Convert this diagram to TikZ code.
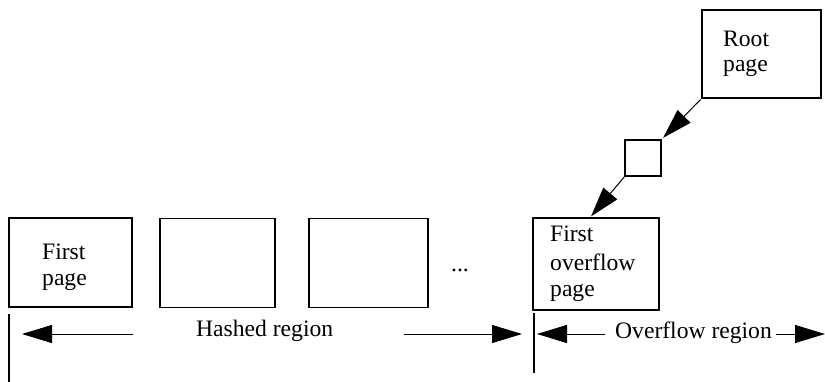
\documentclass[tikz,border=0pt]{standalone}
\usepackage{fontspec}
\setmainfont{Liberation Serif}
\usetikzlibrary{arrows.meta,calc}

\tikzset{
  pagebox/.style={draw, line width=1.3pt, inner sep=0pt, outer sep=0pt},
  lbl/.style={anchor=base west, inner sep=0pt, font=\fontsize{23.6}{26}\selectfont},
  arr/.style={line width=1pt, -{Triangle[length=30pt,width=18pt]}},
  tick/.style={line width=1.3pt}
}

\begin{document}
\begin{tikzpicture}[x=1pt, y=-1pt]
  \useasboundingbox (0,0) rectangle (825,382);

  % hashed pages
  \node[pagebox, minimum width=123pt, minimum height=89pt] (p1) at (70.5,262.5) {};
  \node[pagebox, minimum width=115pt, minimum height=89pt] (p2) at (217.5,263) {};
  \node[pagebox, minimum width=119pt, minimum height=89pt] (p3) at (368.5,263) {};
  \node[lbl] (p1a) at (42,260) {First};
  \node[lbl] (p1b) at (42,286) {page};
  \node[lbl, anchor=base] (dots) at (460,272) {...};

  % overflow pages
  \node[pagebox, minimum width=126pt, minimum height=92pt] (ovf) at (596,264) {};
  \node[lbl] (ova) at (550,242) {First};
  \node[lbl] (ovb) at (550,271) {overflow};
  \node[lbl] (ovc) at (550,297) {page};

  \node[pagebox, minimum width=119pt, minimum height=88pt] (root) at (761.5,54) {};
  \node[lbl] (rta) at (723,47) {Root};
  \node[lbl] (rtb) at (723,72) {page};

  \node[pagebox, minimum width=36pt, minimum height=36pt] (sq) at (643,158) {};

  % links from the root page down to the first overflow page
  \coordinate (ovtop) at ($(ovf.north west)!0.45!(ovf.north east)$);
  \draw[arr, shorten <=2pt, shorten >=3pt] (root.south west) -- (sq.north east);
  \draw[arr, shorten >=2pt] (sq.south west) -- (ovtop);

  % region markers
  \coordinate (v1t) at (9,314);   \coordinate (v1b) at (9,382);
  \coordinate (v2t) at (534,313); \coordinate (v2b) at (534,373);
  \draw[tick] (v1t) -- (v1b);
  \draw[tick] (v2t) -- (v2b);

  \node[lbl] (hashed) at (196,336) {Hashed region};
  \node[lbl] (overflow) at (615,338) {Overflow region};

  \coordinate (h1s) at (133,334); \coordinate (h1e) at (22,334);
  \coordinate (h2s) at (404,334); \coordinate (h2e) at (522,334);
  \coordinate (o1s) at (605,334); \coordinate (o1e) at (537,334);
  \coordinate (o2s) at (776,334); \coordinate (o2e) at (825,334);
  \draw[arr] (h1s) -- (h1e);
  \draw[arr] (h2s) -- (h2e);
  \draw[arr] (o1s) -- (o1e);
  \draw[arr] (o2s) -- (o2e);
\end{tikzpicture}
\end{document}
